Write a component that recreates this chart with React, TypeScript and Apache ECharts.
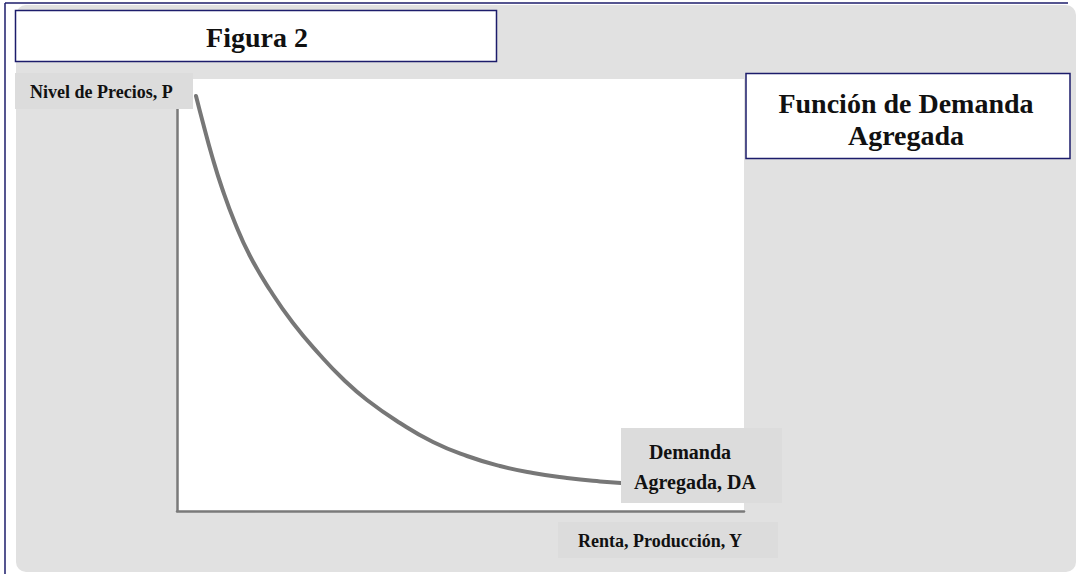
import React, { useEffect, useRef } from "react";
import * as echarts from "echarts";

// Curve of aggregate demand (Y = output, P = price level)
const rentaY = [19, 26, 35, 45, 58, 73, 93, 116, 143, 166, 190, 223, 256, 290, 323, 356, 390, 423, 444];
const nivelP = [415, 388, 355, 323, 288, 255, 221, 188, 156, 132, 111, 88, 69, 55, 45, 38, 33, 29.5, 28];

const titleText = "Figura 2";
const legendLines = ["Función de Demanda", "Agregada"];
const yAxisName = "Nivel de Precios, P";
const xAxisName = "Renta, Producción, Y";
const curveLabel = ["Demanda", "Agregada, DA"];

const FONT = "'Liberation Serif', 'Times New Roman', serif";
const NAVY = "#1c1c6b";
const PANEL = "#e1e1e1";
const BOX = "#dcdcdc";

export default function App() {
  const ref = useRef<HTMLDivElement>(null);

  useEffect(() => {
    if (!ref.current) return;
    const chart = echarts.init(ref.current, undefined, { renderer: "svg" });
    const txt = (text: string, x: number, y: number, size: number, align = "center") => ({
      type: "text",
      x,
      y,
      z: 20,
      style: {
        text,
        fill: "#111",
        font: `bold ${size}px ${FONT}`,
        textAlign: align,
        textVerticalAlign: "middle",
      },
    });
    const axisCommon = {
      type: "value",
      z: 4,
      axisLine: { show: true, onZero: false, lineStyle: { color: "#7a7a7a", width: 2.5 } },
      axisTick: { show: false },
      axisLabel: { show: false },
      splitLine: { show: false },
    };
    chart.setOption({
      animation: false,
      backgroundColor: "#ffffff",
      grid: {
        left: 177,
        top: 79,
        width: 567,
        height: 432,
        show: true,
        backgroundColor: "#ffffff",
        borderWidth: 0,
      },
      xAxis: { ...axisCommon, min: 0, max: 567 },
      yAxis: { ...axisCommon, min: 0, max: 432 },
      series: [
        {
          type: "line",
          data: rentaY.map((x, i) => [x, nivelP[i]]),
          smooth: 0.5,
          showSymbol: false,
          symbol: "none",
          lineStyle: { color: "#777777", width: 4, cap: "round" },
          z: 5,
        },
      ],
      graphic: [
        {
          type: "rect",
          z: -10,
          shape: { x: 16, y: 5, width: 1060, height: 567, r: 10 },
          style: { fill: PANEL },
        },
        {
          type: "line",
          z: 20,
          shape: { x1: 5, y1: 3, x2: 1068, y2: 3 },
          style: { stroke: NAVY, lineWidth: 1.5 },
        },
        {
          type: "line",
          z: 20,
          shape: { x1: 5, y1: 3, x2: 5, y2: 574 },
          style: { stroke: NAVY, lineWidth: 1.5 },
        },
        {
          type: "rect",
          z: 15,
          shape: { x: 15.5, y: 10.5, width: 481, height: 51 },
          style: { fill: "#ffffff", stroke: NAVY, lineWidth: 1.5 },
        },
        txt(titleText, 257, 37, 28),
        {
          type: "rect",
          z: 15,
          shape: { x: 746, y: 73.5, width: 324, height: 85 },
          style: { fill: "#ffffff", stroke: NAVY, lineWidth: 1.5 },
        },
        txt(legendLines[0], 906, 103, 28),
        txt(legendLines[1], 906, 135, 28),
        {
          type: "rect",
          z: 15,
          shape: { x: 15, y: 73, width: 178, height: 36 },
          style: { fill: BOX },
        },
        txt(yAxisName, 30, 92, 18, "left"),
        {
          type: "rect",
          z: 15,
          shape: { x: 621, y: 428, width: 161, height: 75 },
          style: { fill: BOX },
        },
        txt(curveLabel[0], 690, 452, 20),
        txt(curveLabel[1], 695, 482, 20),
        {
          type: "rect",
          z: 15,
          shape: { x: 558, y: 522, width: 220, height: 36 },
          style: { fill: BOX },
        },
        txt(xAxisName, 660, 541, 18),
      ],
    });
    return () => chart.dispose();
  }, []);

  return (
    <div
      ref={ref}
      style={{ position: "absolute", left: 0, top: 0, width: 1078, height: 574 }}
    />
  );
}
